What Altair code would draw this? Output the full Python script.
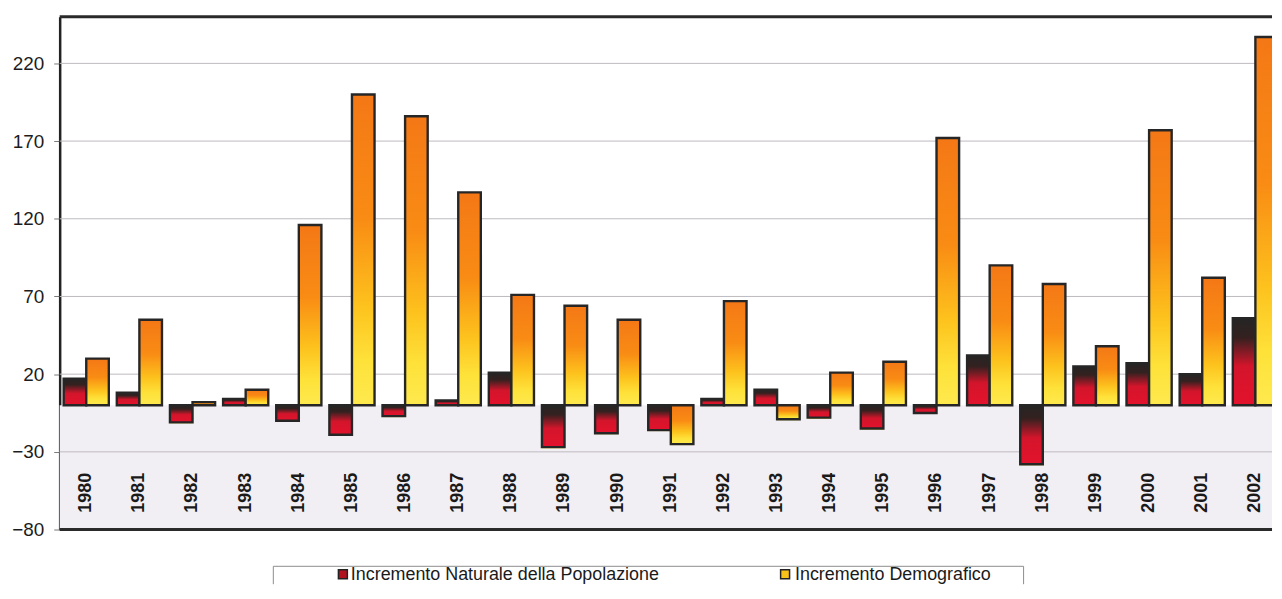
import altair as alt
import pandas as pd

# ---- data ----
years = [str(y) for y in range(1980, 2003)]
naturale = [17, 8, -11, 4, -10, -19, -7, 3, 21, -27, -18, -16, 4, 10, -8, -15, -5, 32, -38, 25, 27, 20, 56]
demografico = [30, 55, 2, 10, 116, 200, 186, 137, 71, 64, 55, -25, 67, -9, 21, 28, 172, 90, 78, 38, 177, 82, 237]
series_codes = ["N", "D"]
series_names = ["Incremento  Naturale della Popolazione", "Incremento Demografico"]
y_ticks = [-80, -30, 20, 70, 120, 170, 220]
y_domain = [-80, 250]

rows = []
for i, yr in enumerate(years):
    rows.append({"anno": yr, "serie": "N", "valore": naturale[i]})
    rows.append({"anno": yr, "serie": "D", "valore": demografico[i]})
df = pd.DataFrame(rows)

W = 1220
H = 516

grad_red = {
    "gradient": "linear", "x1": 0, "y1": 0, "x2": 0, "y2": 1,
    "stops": [
        {"offset": 0, "color": "#252525"},
        {"offset": 0.22, "color": "#33211f"},
        {"offset": 0.55, "color": "#d3152b"},
        {"offset": 1, "color": "#e3122c"},
    ],
}
grad_yel = {
    "gradient": "linear", "x1": 0, "y1": 0, "x2": 0, "y2": 1,
    "stops": [
        {"offset": 0, "color": "#f47816"},
        {"offset": 0.4, "color": "#f98c14"},
        {"offset": 0.68, "color": "#fdc21d"},
        {"offset": 0.86, "color": "#fee23a"},
        {"offset": 1, "color": "#fee94e"},
    ],
}

x_scale = alt.Scale(domain=years, range=[0, 1230], paddingInner=0.15, paddingOuter=0.075)
y_scale = alt.Scale(domain=y_domain, nice=False, zero=False)
xoff = alt.XOffset("serie:N", sort=series_codes,
                   scale=alt.Scale(domain=series_codes, paddingInner=0, paddingOuter=0))

one = alt.Data(values=[{}])

bg = alt.Chart(one).mark_rect(color="#f2eff4").encode(
    x=alt.value(0), x2=alt.value(W), y=alt.datum(0, scale=y_scale), y2=alt.datum(-80)
)

grid = alt.Chart(pd.DataFrame({"valore": y_ticks})).mark_rule(
    color="#bdb9bf", strokeWidth=1
).encode(y=alt.Y("valore:Q", title=None, scale=y_scale))

shadow = alt.Chart(df).mark_bar(color="#f6e20a", xOffset=-2, yOffset=1, clip=True).encode(
    x=alt.X("anno:N", sort=years, axis=None, scale=x_scale),
    xOffset=xoff,
    y=alt.Y("valore:Q", stack=None, title=None),
    y2=alt.datum(0),
)

bars = alt.Chart(df).mark_bar(stroke="#262626", strokeWidth=2.4, clip=True).encode(
    x=alt.X("anno:N", sort=years, axis=None, scale=x_scale),
    xOffset=xoff,
    y=alt.Y("valore:Q", stack=None, scale=y_scale,
            axis=alt.Axis(values=y_ticks, grid=False, title=None, labelFontSize=19,
                          labelFont="Liberation Sans", labelColor="#1c1c1c",
                          tickColor="#7a7a7a", tickSize=6, labelPadding=10,
                          domainColor="#222222", domainWidth=2.5)),
    y2=alt.datum(0),
    fill=alt.condition(alt.datum.serie == "N", alt.value(grad_red), alt.value(grad_yel)),
)

top_line = alt.Chart(one).mark_rule(color="#2a2a2a", strokeWidth=3).encode(y=alt.datum(250))
bottom_line = alt.Chart(one).mark_rule(color="#2a2a2a", strokeWidth=3).encode(y=alt.datum(-80))

year_text = alt.Chart(pd.DataFrame({"anno": years})).mark_text(
    angle=270, align="left", baseline="middle", fontSize=18, fontWeight="bold",
    font="Liberation Sans", color="#1a1a1a"
).encode(x=alt.X("anno:N", sort=years), y=alt.value(499), text="anno:N")

# ---- legend (below the plot) ----
box_top = alt.Chart(one).mark_rule(color="#8c8c8c", strokeWidth=1).encode(
    x=alt.value(215), x2=alt.value(970), y=alt.value(553))
box_left = alt.Chart(one).mark_rule(color="#8c8c8c", strokeWidth=1).encode(
    x=alt.value(215), y=alt.value(553), y2=alt.value(571))
box_right = alt.Chart(one).mark_rule(color="#8c8c8c", strokeWidth=1).encode(
    x=alt.value(970), y=alt.value(553), y2=alt.value(571))

leg_layers = []
for name, sx, tx, col in [(series_names[0], 285, 293, "#b3101f"), (series_names[1], 730, 740, "#f7c21a")]:
    leg_layers.append(
        alt.Chart(alt.Data(values=[{"nome": name}])).mark_square(
            size=81, fill=col, stroke="#222222", strokeWidth=1.5, opacity=1
        ).encode(x=alt.value(sx), y=alt.value(561))
    )
    leg_layers.append(
        alt.Chart(alt.Data(values=[{"nome": name}])).mark_text(
            align="left", baseline="alphabetic", fontSize=18, font="Liberation Sans", color="#1a1a1a"
        ).encode(x=alt.value(tx), y=alt.value(567), text="nome:N")
    )

chart = alt.layer(
    bg, grid, shadow, bars, top_line, bottom_line, year_text, box_top, box_left, box_right, *leg_layers
).properties(
    width=W, height=H,
    padding={"left": 3, "top": 5, "right": 0, "bottom": 0},
).configure_view(stroke=None)

chart.save("out.html", embed_options={"renderer": "svg", "actions": False})
